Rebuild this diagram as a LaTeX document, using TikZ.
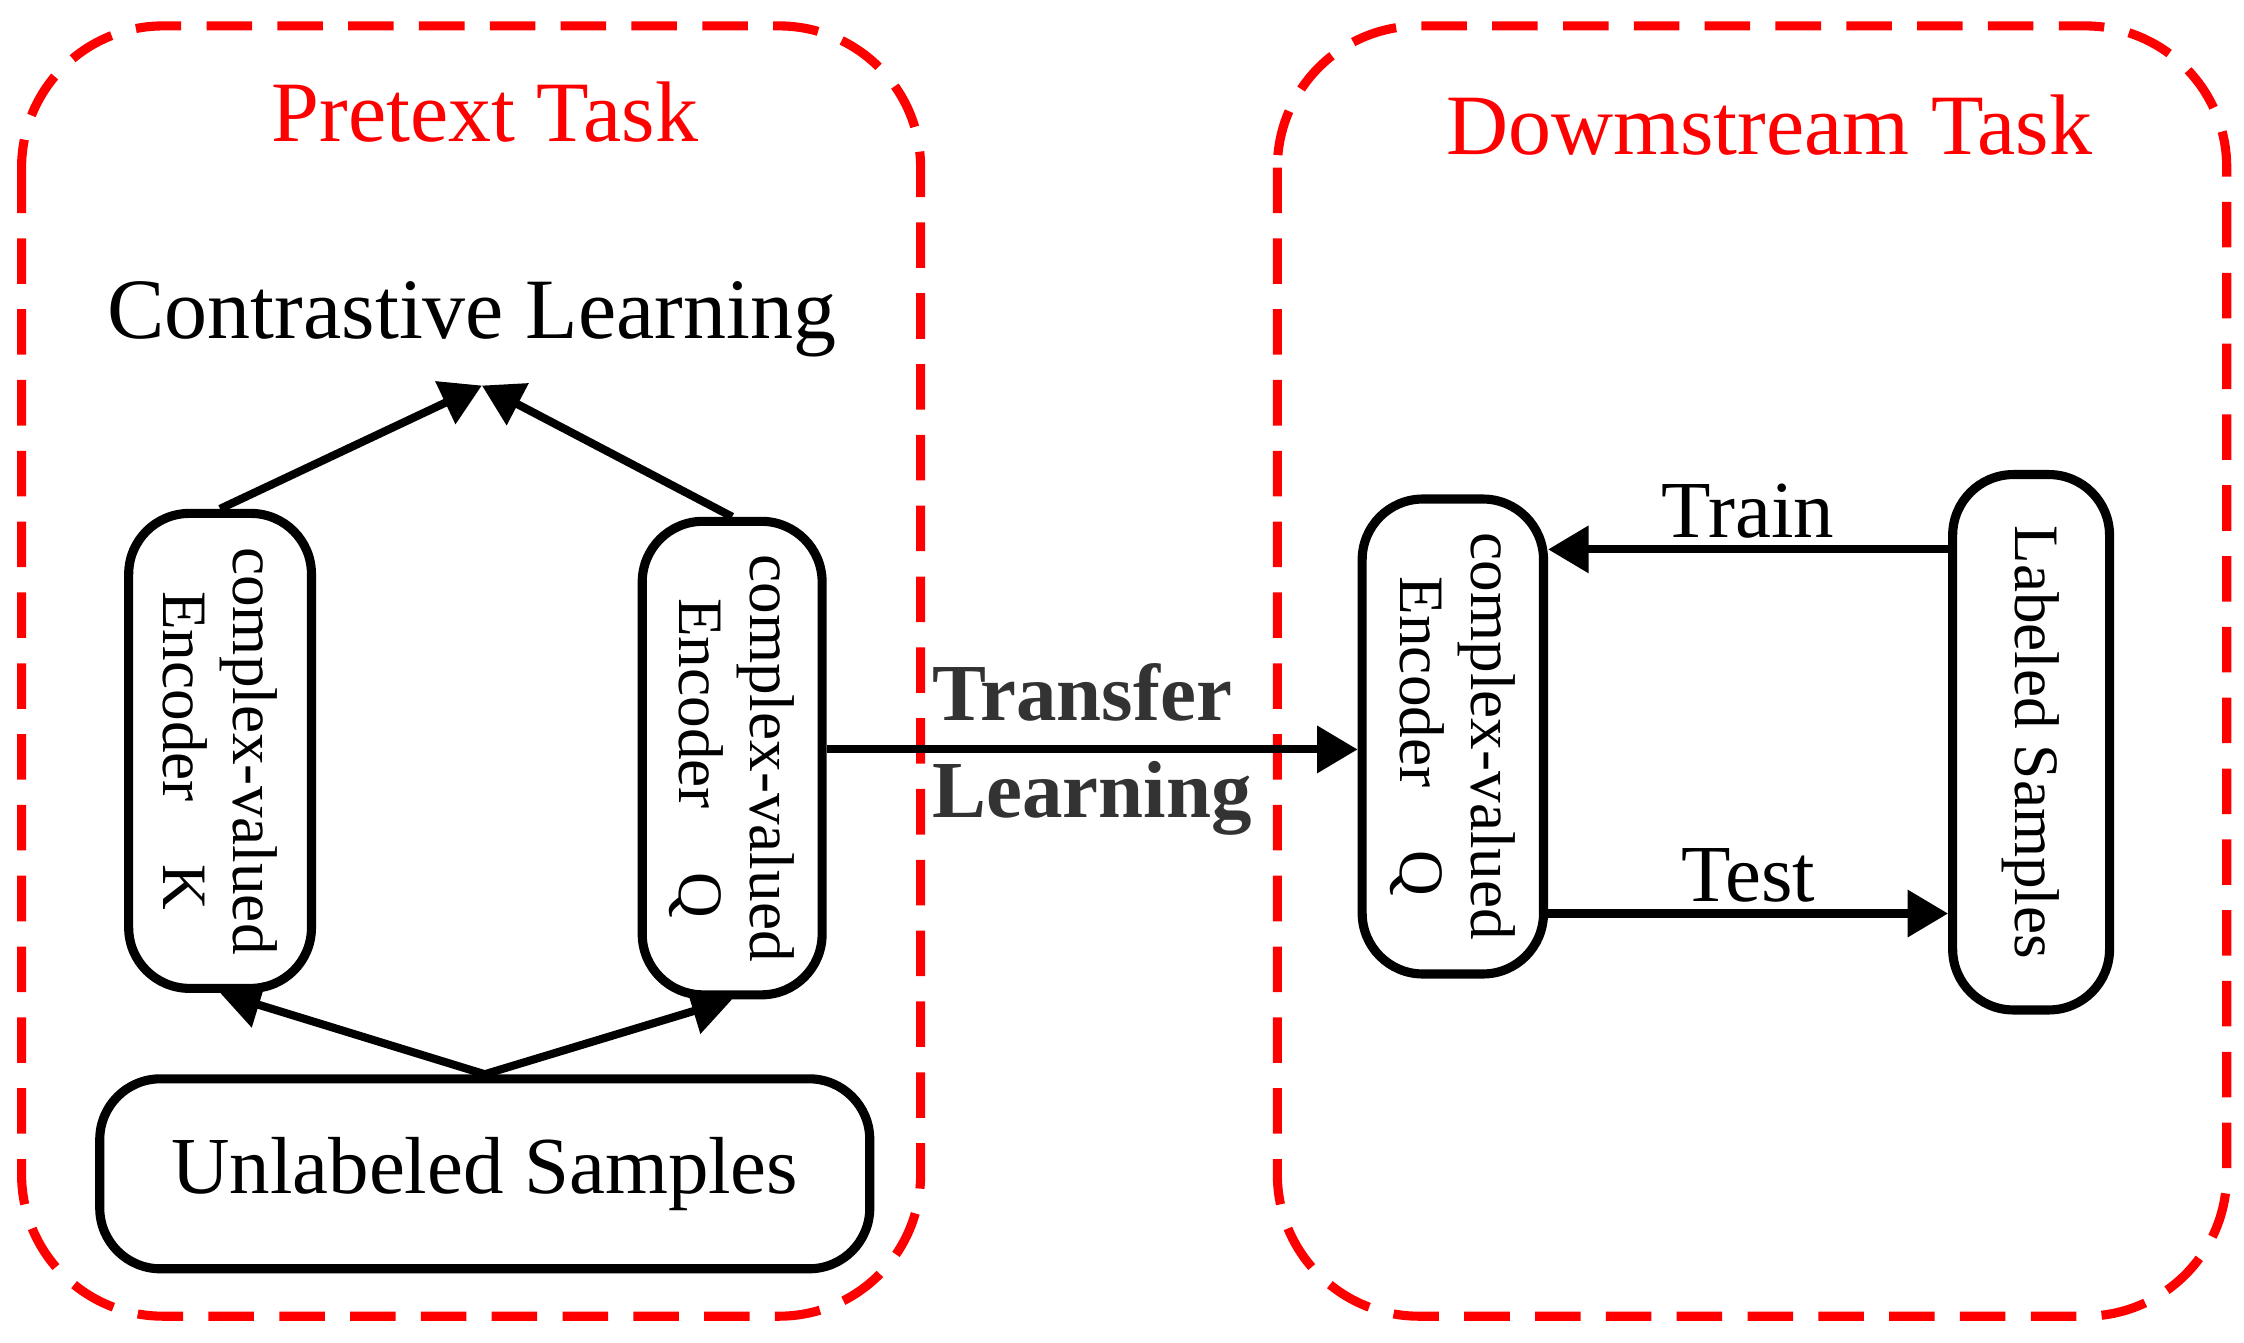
\documentclass[tikz,border=0pt]{standalone}
\usepackage{fontspec}
\setmainfont{Liberation Serif}
\usetikzlibrary{arrows.meta,calc}

\begin{document}
\begin{tikzpicture}[x=0.01cm, y=-0.01cm,
    box/.style={rectangle, rounded corners=12pt, draw, line width=1.8pt, inner sep=0pt},
    task/.style={draw=red, line width=1.8pt, dash pattern=on 9pt off 5pt, rounded corners=28pt},
    arr/.style={-{Triangle[length=8pt,width=9pt]}, line width=1.6pt},
    vtext/.style={rotate=-90, align=center, font=\fontsize{12.5}{14}\selectfont}
]
    \useasboundingbox (0,0) rectangle (1560,933);
    \draw[task] (15,18) rectangle (640,915);
    \draw[task] (888,18) rectangle (1548,915);
    \node (pretext) [text=red, font=\fontsize{17}{20}\selectfont] at (337,78) {Pretext Task};
    \node (downstream) [text=red, font=\fontsize{17}{20}\selectfont] at (1230,87) {Dowmstream Task};
    \node (contrast) [font=\fontsize{17}{20}\selectfont] at (328,222) {Contrastive Learning};
    \coordinate (apex) at (335,268);
    % encoder boxes
    \node (enc_k) [box, minimum width=1.27cm, minimum height=3.3cm] at (153,522) {};
    \node [vtext] at (enc_k) {complex-valued\\Encoder\quad K};
    \node (enc_q) [box, minimum width=1.25cm, minimum height=3.29cm] at (509,527) {};
    \node [vtext] at (enc_q) {complex-valued\\Encoder\quad Q};
    \node (unlabeled) [box, minimum width=5.35cm, minimum height=1.32cm, font=\fontsize{16}{19}\selectfont] at (337,816)
    {
        Unlabeled Samples
    };
    \node (enc_q2) [box, minimum width=1.26cm, minimum height=3.3cm] at (1010,512) {};
    \node [vtext] at (enc_q2) {complex-valued\\Encoder\quad Q};
    \node (labeled) [box, minimum width=1.09cm, minimum height=3.72cm] at (1412,516) {};
    \node [vtext] at (labeled) {Labeled Samples};
    % connectors
    \draw[arr] (enc_k.north) -- (apex);
    \draw[arr] (enc_q.north) -- (apex);
    \draw[arr] (unlabeled.north) -- (enc_k.south);
    \draw[arr] (unlabeled.north) -- (enc_q.south);
    \draw[arr] (enc_q.east |- 0,521) -- (enc_q2.west |- 0,521)
        node[midway, align=left, text=black!80, font=\bfseries\fontsize{16}{19}\selectfont] {Transfer\\Learning};
    \draw[arr] ([yshift=1.34cm]labeled.west) -- ([yshift=1.34cm]labeled.west -| enc_q2.east)
        node[midway, above=-2pt, font=\fontsize{16}{19}\selectfont] {Train};
    \draw[arr] ([yshift=-1.19cm]labeled.west -| enc_q2.east) -- ([yshift=-1.19cm]labeled.west)
        node[midway, above=-2pt, font=\fontsize{16}{19}\selectfont] {Test};
\end{tikzpicture}
\end{document}
